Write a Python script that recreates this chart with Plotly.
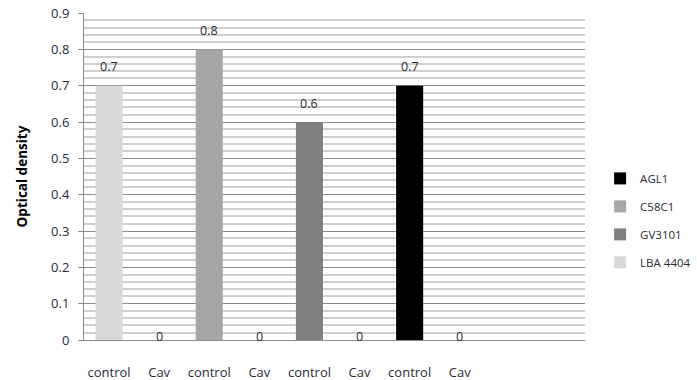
import plotly.graph_objects as go

# Strains, in drawing order
strains = ["LBA 4404", "C58C1", "GV3101", "AGL1"]
legend_order = ["AGL1", "C58C1", "GV3101", "LBA 4404"]
colors = ["#d9d9d9", "#a6a6a6", "#808080", "#000000"]
control_od = [0.7, 0.8, 0.6, 0.7]
cav_od = [0, 0, 0, 0]

tick_labels = ["control", "Cav", "control", "Cav", "control", "Cav", "control", "Cav", "", ""]

FONT = "Open Sans, Liberation Sans, sans-serif"
TEXT = "#262b36"

fig = go.Figure()
annotations = []
for i, (name, col) in enumerate(zip(strains, colors)):
    xs = [2 * i, 2 * i + 1]
    ys = [control_od[i], cav_od[i]]
    fig.add_trace(go.Bar(
        x=xs, y=ys, name=name, legendgroup=name,
        legendrank=legend_order.index(name) + 1,
        marker=dict(color=col, line=dict(width=0)),
        width=0.54,
    ))
    for x, y in zip(xs, ys):
        annotations.append(dict(
            x=x, y=y, xref="x", yref="y", text=f"{y:g}", showarrow=False,
            yanchor="middle", yshift=19 if y > 0 else 4,
            font=dict(family=FONT, size=12.5, color=TEXT),
        ))

fig.update_layout(
    width=697, height=380,
    margin=dict(l=84, r=112, t=13, b=40, autoexpand=False),
    paper_bgcolor="white", plot_bgcolor="white",
    barmode="overlay",
    font=dict(family=FONT, size=12, color=TEXT),
    showlegend=True,
    legend=dict(
        x=0.861, xanchor="left", xref="container",
        y=0.42, yanchor="middle", yref="container",
        traceorder="grouped", tracegroupgap=9,
        font=dict(family=FONT, size=11.5, color=TEXT),
        itemwidth=30,
    ),
    annotations=annotations,
)

fig.update_xaxes(
    range=[-0.5, 9.5], automargin=False,
    tickmode="array", tickvals=list(range(len(tick_labels))), ticktext=tick_labels,
    showgrid=False, zeroline=False,
    showline=True, linecolor="#8c8c8c", linewidth=1,
    ticks="", ticklabelstandoff=20,
    tickfont=dict(family=FONT, size=13, color=TEXT),
)

fig.update_yaxes(
    range=[0, 0.9], dtick=0.1, tickformat="~g", automargin=False,
    showgrid=True, gridcolor="#8c8c8c", gridwidth=1,
    minor=dict(dtick=0.02, showgrid=True, gridcolor="#cfcfcf", gridwidth=2),
    zeroline=False,
    showline=True, linecolor="#8c8c8c", linewidth=1,
    ticks="outside", ticklen=5, tickcolor="#8c8c8c",
    ticklabelstandoff=6,
    tickfont=dict(family=FONT, size=13, color=TEXT),
    title=dict(text="<b>Optical density</b>", standoff=20,
               font=dict(family=FONT, size=13.5, color="#000000")),
)

fig.write_html("out.html")
